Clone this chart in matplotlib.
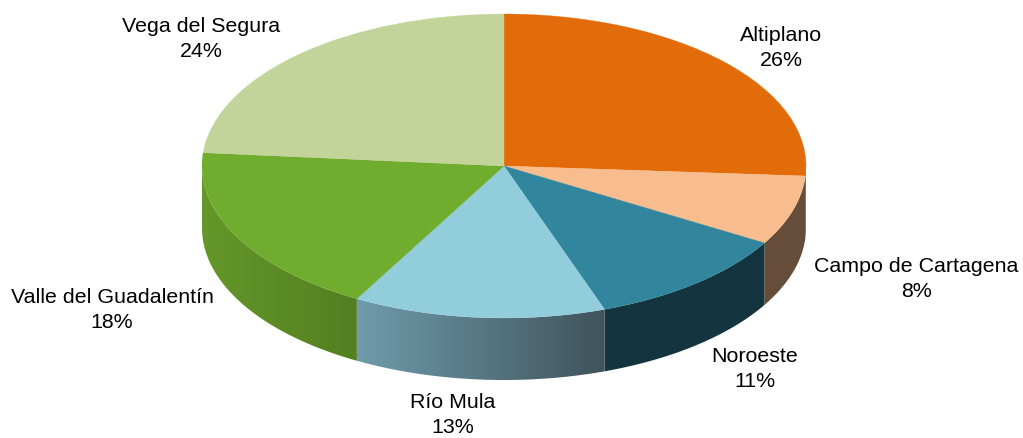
import numpy as np
import matplotlib
matplotlib.use("Agg")
import matplotlib.pyplot as plt
from matplotlib.colors import to_rgb
from matplotlib.patches import Polygon

regions = ["Altiplano", "Campo de Cartagena", "Noroeste", "Río Mula",
           "Valle del Guadalentín", "Vega del Segura"]
shares = [26.05, 7.4, 11.15, 13.5, 18.3, 23.6]
percent_labels = ["26%", "8%", "11%", "13%", "18%", "24%"]

top_colors = ["#E26B0A", "#F8BD8E", "#31859C", "#92CDDC", "#70AD2F", "#C3D49A"]
side_left = ["#8A4A10", "#654D3A", "#14353F", "#6F9BAC", "#65972A", "#8A9A6C"]
side_right = ["#7A4410", "#654D3A", "#14353F", "#3F535B", "#527F20", "#8A9A6C"]
label_centers = [(781, 46), (916, 277), (755, 367), (453, 413), (112, 308), (201, 37)]
LINE_GAP = 24.5

W, H = 1023, 438
CX, CY, RX, RY, DEPTH = 504, 166, 302, 152, 62

plt.rcParams["font.family"] = ["Liberation Sans", "DejaVu Sans"]
fig = plt.figure(figsize=(W / 100, H / 100), dpi=100, facecolor="white")
ax = fig.add_axes([0, 0, 1, 1])

# Top face: a regular pie, squashed by unequal axis scales
ax.pie(shares, colors=top_colors, startangle=90, counterclock=False, radius=1,
       wedgeprops=dict(linewidth=0.25), normalize=True)
for w, c in zip(ax.patches, top_colors):
    w.set_edgecolor(c)
    w.set_zorder(5)

# Side wall: one gradient image per slice, clipped to the wall outline
depth = DEPTH / RY
edges = 90 - 360 * np.cumsum([0] + shares) / np.sum(shares)
for i in range(len(shares)):
    a0 = max(min(edges[i], 0), -180)
    a1 = max(min(edges[i + 1], 0), -180)
    if a0 <= a1:
        continue
    ang = np.radians(np.linspace(a0, a1, 200))
    xs, ys = np.cos(ang), np.sin(ang)
    outline = np.column_stack([np.r_[xs, xs[::-1]], np.r_[ys, ys[::-1] - depth]])
    c0, c1 = np.array(to_rgb(side_left[i])), np.array(to_rgb(side_right[i]))
    ramp = np.linspace(0, 1, 256)[:, None]
    grad = (c0 + (c1 - c0) * ramp)[None, :, :]
    pad = 0.8 / RX
    im = ax.imshow(grad, extent=[xs.min() - pad, xs.max() + pad,
                                 ys.min() - depth - 0.05, ys.max() + 0.05],
                   aspect="auto", interpolation="bilinear", zorder=2)
    poly = Polygon(outline, closed=True, transform=ax.transData,
                   facecolor="none", edgecolor="none")
    ax.add_patch(poly)
    im.set_clip_path(poly)

ax.set_aspect("auto")
ax.set_xlim(-CX / RX, (W - CX) / RX)
ax.set_ylim(-(H - CY) / RY, CY / RY)
ax.axis("off")

for name, pct, (px, py) in zip(regions, percent_labels, label_centers):
    fig.text(px / W, 1 - (py - LINE_GAP / 2) / H, name, ha="center", va="center_baseline",
             fontsize=15.4, color="#000000")
    fig.text(px / W, 1 - (py + LINE_GAP / 2) / H, pct, ha="center", va="center_baseline",
             fontsize=15.4, color="#000000")

fig.savefig("out.png", dpi=100)
